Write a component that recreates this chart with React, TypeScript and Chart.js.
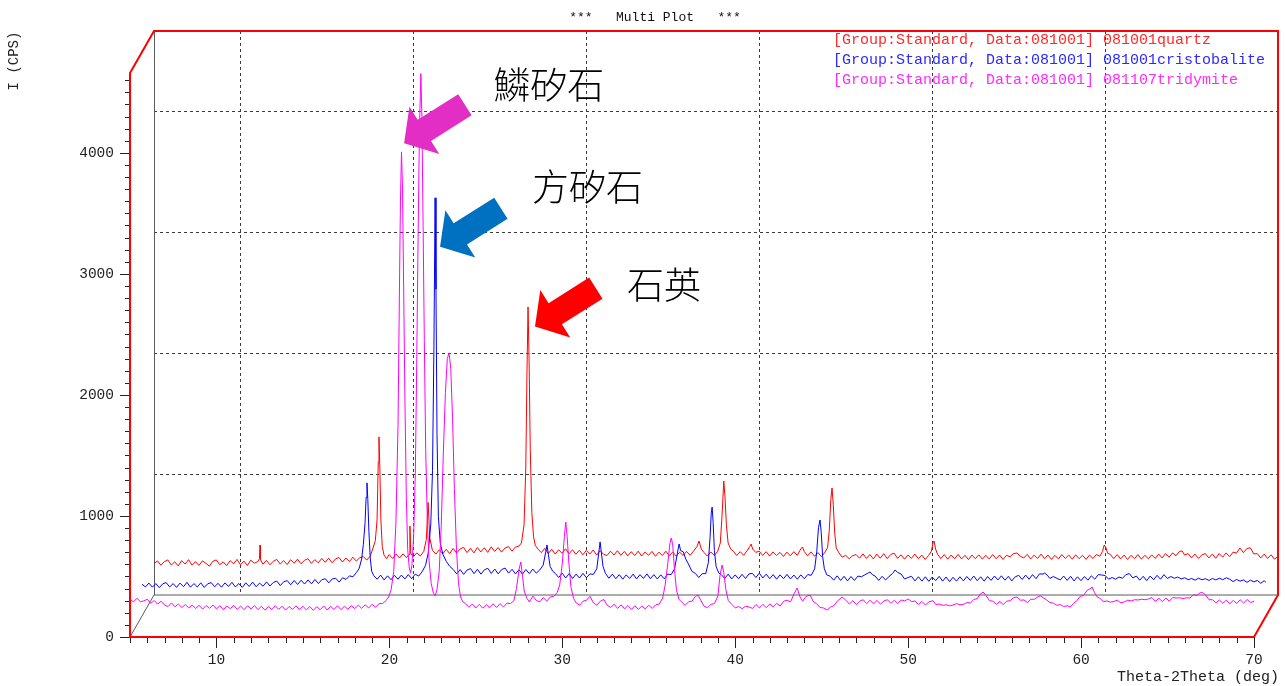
import React, { useEffect, useRef } from "react";
import { Chart, registerables } from "chart.js";

Chart.register(...registerables);

// ---------- axis ranges & tick labels ----------
const X_MIN = 5;
const X_MAX = 70;
const Y_MIN = 0;
const Y_MAX = 4660;
const X_TICK_LABELS = [10, 20, 30, 40, 50, 60, 70];
const Y_TICK_LABELS = [0, 1000, 2000, 3000, 4000];
const BACK_GRID_X = [10, 20, 30, 40, 50, 60];
const BACK_GRID_Y = [1000, 2000, 3000, 4000];

const CHART_TITLE = "***   Multi Plot   ***";
const X_TITLE = "Theta-2Theta (deg)";
const Y_TITLE = "I (CPS)";

const SERIES_NAMES = [
  "[Group:Standard, Data:081001] 081001quartz",
  "[Group:Standard, Data:081001] 081001cristobalite",
  "[Group:Standard, Data:081001] 081107tridymite",
];

// ---------- series data: [2theta (deg), intensity (CPS)] ----------
const quartz: number[][] = [
  [5.0, 258], [5.2, 282], [5.4, 246], [5.6, 276], [5.8, 290], [6.0, 248], [6.2, 274], [6.4, 240], [6.6, 284], [6.8, 256],
  [7.0, 292], [7.2, 246], [7.4, 276], [7.6, 244], [7.8, 282], [8.0, 262], [8.2, 238], [8.4, 278], [8.6, 290], [8.8, 250],
  [9.0, 274], [9.2, 242], [9.4, 284], [9.6, 258], [9.8, 294], [10.0, 250], [10.2, 280], [10.4, 244], [10.6, 288], [10.8, 262],
  [11.0, 276], [11.1, 300], [11.13, 413], [11.16, 290], [11.3, 254], [11.5, 286], [11.7, 250], [11.9, 278], [12.1, 294], [12.3, 256],
  [12.5, 284], [12.7, 252], [12.9, 292], [13.1, 262], [13.3, 296], [13.5, 258], [13.7, 286], [13.9, 300], [14.1, 262], [14.3, 292],
  [14.5, 266], [14.7, 302], [14.9, 270], [15.1, 304], [15.3, 266], [15.5, 298], [15.7, 310], [15.9, 272], [16.1, 306], [16.3, 276],
  [16.5, 312], [16.7, 280], [16.9, 308], [17.1, 318], [17.3, 288], [17.5, 320], [17.65, 380], [17.8, 450], [17.9, 620], [17.97, 1100],
  [18.01, 1306], [18.06, 1050], [18.12, 620], [18.2, 400], [18.3, 330], [18.45, 300], [18.6, 334], [18.8, 302], [19.0, 338], [19.2, 306],
  [19.4, 340], [19.6, 308], [19.75, 335], [19.8, 570], [19.85, 340], [20.0, 316], [20.2, 348], [20.4, 322], [20.6, 360], [20.75, 460],
  [20.85, 765], [20.95, 470], [21.1, 370], [21.3, 338], [21.5, 374], [21.7, 340], [21.9, 378], [22.1, 342], [22.3, 384], [22.5, 346],
  [22.7, 380], [22.9, 394], [23.1, 350], [23.3, 386], [23.5, 348], [23.7, 392], [23.9, 356], [24.1, 390], [24.3, 352], [24.5, 398],
  [24.7, 360], [24.9, 392], [25.1, 354], [25.3, 388], [25.5, 400], [25.7, 362], [25.9, 396], [26.1, 404], [26.25, 430], [26.4, 580],
  [26.5, 1050], [26.57, 1850], [26.63, 2380], [26.69, 1950], [26.76, 1200], [26.85, 680], [26.95, 480], [27.05, 410], [27.2, 380], [27.4, 350],
  [27.6, 386], [27.8, 342], [28.0, 378], [28.2, 338], [28.4, 374], [28.6, 344], [28.8, 382], [29.0, 340], [29.2, 374], [29.4, 336],
  [29.6, 370], [29.8, 332], [30.0, 368], [30.2, 338], [30.4, 372], [30.6, 330], [30.8, 366], [31.0, 336], [31.2, 326], [31.4, 362],
  [31.6, 330], [31.8, 366], [32.0, 328], [32.2, 360], [32.4, 324], [32.6, 358], [32.8, 326], [33.0, 362], [33.2, 322], [33.4, 356],
  [33.6, 328], [33.8, 360], [34.0, 320], [34.2, 354], [34.4, 326], [34.6, 362], [34.8, 324], [35.0, 356], [35.2, 320], [35.4, 354],
  [35.6, 326], [35.8, 360], [36.0, 328], [36.2, 362], [36.4, 400], [36.52, 446], [36.65, 380], [36.8, 352], [37.0, 322], [37.2, 356],
  [37.4, 326], [37.6, 362], [37.75, 430], [37.85, 660], [37.95, 942], [38.02, 810], [38.1, 580], [38.2, 430], [38.35, 380], [38.5, 362],
  [38.7, 326], [38.9, 358], [39.1, 328], [39.3, 366], [39.45, 400], [39.53, 421], [39.62, 380], [39.8, 352], [40.0, 362], [40.2, 326],
  [40.4, 358], [40.6, 322], [40.8, 356], [41.0, 326], [41.2, 352], [41.4, 318], [41.6, 354], [41.8, 324], [42.0, 358], [42.2, 328],
  [42.4, 380], [42.5, 397], [42.6, 360], [42.8, 324], [43.0, 356], [43.2, 320], [43.4, 350], [43.6, 316], [43.8, 354], [43.95, 390],
  [44.05, 530], [44.14, 790], [44.21, 884], [44.28, 750], [44.36, 520], [44.45, 390], [44.6, 350], [44.8, 312], [45.0, 328], [45.2, 300],
  [45.4, 324], [45.6, 334], [45.8, 304], [46.0, 340], [46.2, 302], [46.4, 334], [46.6, 298], [46.8, 338], [47.0, 304], [47.2, 342],
  [47.4, 300], [47.6, 334], [47.8, 346], [48.0, 302], [48.2, 332], [48.4, 296], [48.6, 330], [48.8, 302], [49.0, 338], [49.2, 300],
  [49.4, 330], [49.6, 294], [49.8, 328], [49.95, 360], [50.05, 430], [50.11, 446], [50.2, 380], [50.3, 340], [50.5, 300], [50.7, 334],
  [50.9, 296], [51.1, 330], [51.3, 300], [51.5, 336], [51.7, 298], [51.9, 328], [52.1, 292], [52.3, 330], [52.5, 300], [52.7, 332],
  [52.9, 296], [53.1, 328], [53.3, 298], [53.5, 334], [53.7, 300], [53.9, 330], [54.1, 294], [54.3, 328], [54.5, 316], [54.7, 342],
  [54.9, 347], [55.1, 320], [55.3, 306], [55.5, 336], [55.7, 298], [55.9, 330], [56.1, 302], [56.3, 338], [56.5, 300], [56.7, 330],
  [56.9, 294], [57.1, 328], [57.3, 298], [57.5, 334], [57.7, 302], [57.9, 330], [58.1, 296], [58.3, 332], [58.5, 300], [58.7, 328],
  [58.9, 294], [59.1, 330], [59.3, 302], [59.5, 334], [59.7, 320], [59.85, 360], [59.95, 413], [60.05, 390], [60.15, 345], [60.3, 336],
  [60.5, 300], [60.7, 334], [60.9, 298], [61.1, 330], [61.3, 294], [61.5, 328], [61.7, 300], [61.9, 334], [62.1, 296], [62.3, 328],
  [62.5, 300], [62.7, 332], [62.9, 302], [63.1, 338], [63.3, 306], [63.5, 342], [63.7, 312], [63.9, 348], [64.1, 324], [64.3, 360],
  [64.46, 364], [64.6, 330], [64.8, 342], [65.0, 306], [65.2, 338], [65.4, 302], [65.6, 332], [65.8, 342], [66.0, 306], [66.2, 338],
  [66.4, 304], [66.6, 342], [66.8, 312], [67.0, 348], [67.2, 316], [67.4, 354], [67.6, 346], [67.8, 388], [68.0, 350], [68.2, 384],
  [68.4, 390], [68.6, 340], [68.8, 342], [69.0, 306], [69.2, 338], [69.4, 302], [69.6, 332], [69.8, 296], [70.0, 320],
];

const cristobalite: number[][] = [
  [5.0, 262], [5.2, 240], [5.4, 272], [5.6, 238], [5.8, 268], [6.0, 234], [6.2, 266], [6.4, 276], [6.6, 240], [6.8, 268],
  [7.0, 236], [7.2, 272], [7.4, 242], [7.6, 278], [7.8, 238], [8.0, 268], [8.2, 240], [8.4, 274], [8.6, 236], [8.8, 266],
  [9.0, 276], [9.2, 242], [9.4, 270], [9.6, 238], [9.8, 274], [10.0, 244], [10.2, 278], [10.4, 240], [10.6, 268], [10.8, 236],
  [11.0, 274], [11.2, 244], [11.4, 280], [11.6, 242], [11.8, 272], [12.0, 246], [12.2, 282], [12.4, 248], [12.6, 278], [12.8, 288],
  [13.0, 252], [13.2, 284], [13.4, 292], [13.6, 258], [13.8, 294], [14.0, 260], [14.2, 296], [14.4, 264], [14.6, 298], [14.8, 266],
  [15.0, 302], [15.2, 268], [15.4, 300], [15.6, 308], [15.8, 274], [16.0, 306], [16.2, 312], [16.4, 280], [16.6, 316], [16.8, 302],
  [17.0, 332], [17.2, 324], [17.4, 360], [17.55, 390], [17.7, 470], [17.8, 590], [17.9, 770], [17.96, 980], [18.01, 1100], [18.06, 960],
  [18.12, 700], [18.2, 480], [18.28, 370], [18.4, 334], [18.6, 304], [18.8, 338], [19.0, 298], [19.2, 332], [19.4, 300], [19.6, 336],
  [19.8, 304], [20.0, 338], [20.2, 306], [20.4, 342], [20.6, 308], [20.8, 346], [21.0, 330], [21.2, 366], [21.4, 420], [21.55, 520],
  [21.7, 760], [21.8, 1200], [21.88, 2200], [21.95, 3455], [22.0, 2700], [22.06, 1500], [22.14, 820], [22.25, 600], [22.4, 510], [22.6, 450],
  [22.8, 410], [23.0, 384], [23.2, 348], [23.4, 384], [23.6, 344], [23.8, 380], [24.0, 392], [24.2, 350], [24.4, 386], [24.6, 346],
  [24.8, 382], [25.0, 394], [25.2, 352], [25.4, 388], [25.6, 348], [25.8, 384], [26.0, 396], [26.2, 354], [26.4, 386], [26.6, 348],
  [26.8, 382], [27.0, 346], [27.2, 384], [27.4, 350], [27.6, 388], [27.8, 354], [28.0, 380], [28.2, 420], [28.35, 530], [28.42, 587],
  [28.5, 510], [28.6, 410], [28.75, 370], [28.9, 352], [29.1, 318], [29.3, 354], [29.5, 314], [29.7, 350], [29.9, 310], [30.1, 346],
  [30.3, 314], [30.5, 352], [30.7, 316], [30.9, 348], [31.1, 344], [31.3, 390], [31.42, 530], [31.49, 612], [31.56, 530], [31.66, 410],
  [31.8, 352], [32.0, 312], [32.2, 346], [32.4, 308], [32.6, 342], [32.8, 304], [33.0, 340], [33.2, 310], [33.4, 346], [33.6, 306],
  [33.8, 342], [34.0, 310], [34.2, 348], [34.4, 308], [34.6, 342], [34.8, 306], [35.0, 340], [35.2, 308], [35.4, 346], [35.6, 342],
  [35.8, 390], [35.95, 510], [36.06, 595], [36.15, 540], [36.3, 530], [36.45, 470], [36.6, 430], [36.8, 370], [37.0, 352], [37.2, 318],
  [37.4, 350], [37.6, 350], [37.75, 440], [37.85, 650], [37.92, 850], [37.97, 900], [38.03, 770], [38.1, 540], [38.2, 410], [38.35, 356],
  [38.5, 342], [38.7, 310], [38.9, 346], [39.1, 306], [39.3, 340], [39.5, 308], [39.7, 344], [39.9, 310], [40.1, 348], [40.3, 352],
  [40.5, 318], [40.7, 354], [40.9, 314], [41.1, 346], [41.3, 308], [41.5, 342], [41.7, 304], [41.9, 340], [42.1, 308], [42.3, 344],
  [42.5, 306], [42.7, 338], [42.9, 304], [43.1, 340], [43.3, 308], [43.5, 342], [43.7, 336], [43.9, 390], [44.02, 530], [44.12, 730],
  [44.21, 793], [44.28, 690], [44.36, 490], [44.46, 390], [44.6, 340], [44.8, 328], [45.0, 296], [45.2, 332], [45.4, 294], [45.6, 328],
  [45.8, 290], [46.0, 326], [46.2, 294], [46.4, 330], [46.6, 324], [46.8, 340], [47.0, 356], [47.1, 364], [47.25, 340], [47.4, 330],
  [47.6, 294], [47.8, 328], [48.0, 298], [48.2, 326], [48.4, 350], [48.55, 380], [48.7, 360], [48.9, 346], [49.1, 306], [49.3, 318],
  [49.5, 328], [49.7, 290], [49.9, 324], [50.1, 288], [50.3, 324], [50.5, 286], [50.7, 322], [50.9, 292], [51.1, 328], [51.3, 288],
  [51.5, 322], [51.7, 284], [51.9, 320], [52.1, 288], [52.3, 324], [52.5, 290], [52.7, 326], [52.9, 294], [53.1, 330], [53.3, 292],
  [53.5, 324], [53.7, 288], [53.9, 326], [54.1, 294], [54.3, 330], [54.5, 298], [54.7, 332], [54.9, 296], [55.1, 328], [55.3, 290],
  [55.5, 324], [55.7, 336], [55.9, 302], [56.1, 338], [56.3, 304], [56.5, 342], [56.7, 308], [56.9, 348], [57.1, 346], [57.2, 355],
  [57.35, 338], [57.5, 310], [57.7, 326], [57.9, 312], [58.1, 298], [58.3, 330], [58.5, 294], [58.7, 328], [58.9, 290], [59.1, 324],
  [59.3, 292], [59.5, 326], [59.7, 296], [59.9, 332], [60.1, 304], [60.3, 342], [60.5, 339], [60.7, 334], [60.9, 304], [61.1, 318],
  [61.3, 304], [61.5, 322], [61.7, 312], [61.9, 342], [62.1, 350], [62.3, 314], [62.5, 330], [62.7, 296], [62.9, 328], [63.1, 292],
  [63.3, 330], [63.5, 300], [63.7, 336], [63.9, 304], [64.1, 342], [64.3, 310], [64.5, 326], [64.7, 312], [64.9, 322], [65.1, 306],
  [65.3, 316], [65.5, 300], [65.7, 310], [65.9, 296], [66.1, 312], [66.3, 300], [66.5, 308], [66.7, 294], [66.9, 310], [67.1, 298],
  [67.3, 312], [67.5, 300], [67.7, 316], [67.9, 304], [68.1, 284], [68.3, 302], [68.5, 288], [68.7, 298], [68.9, 278], [69.1, 296],
  [69.3, 282], [69.5, 294], [69.7, 270], [69.9, 292], [70.0, 276],
];

const tridymite: number[][] = [
  [5.0, 312], [5.2, 290], [5.4, 320], [5.6, 292], [5.8, 298], [6.0, 312], [6.2, 278], [6.4, 302], [6.6, 272], [6.8, 296],
  [7.0, 264], [7.2, 252], [7.4, 282], [7.6, 250], [7.8, 272], [8.0, 244], [8.2, 268], [8.4, 240], [8.6, 264], [8.8, 236],
  [9.0, 262], [9.2, 230], [9.4, 260], [9.6, 238], [9.8, 264], [10.0, 232], [10.2, 258], [10.4, 226], [10.6, 256], [10.8, 234],
  [11.0, 262], [11.2, 228], [11.4, 256], [11.6, 226], [11.8, 258], [12.0, 232], [12.2, 260], [12.4, 226], [12.6, 254], [12.8, 222],
  [13.0, 252], [13.2, 226], [13.4, 258], [13.6, 228], [13.8, 254], [14.0, 222], [14.2, 252], [14.4, 228], [14.6, 258], [14.8, 226],
  [15.0, 254], [15.2, 224], [15.4, 252], [15.6, 220], [15.8, 250], [16.0, 226], [16.2, 256], [16.4, 224], [16.6, 252], [16.8, 228],
  [17.0, 258], [17.2, 226], [17.4, 254], [17.6, 230], [17.8, 260], [18.0, 234], [18.2, 264], [18.4, 236], [18.6, 266], [18.8, 240],
  [19.0, 270], [19.2, 246], [19.4, 276], [19.6, 276], [19.8, 300], [19.95, 330], [20.1, 390], [20.25, 540], [20.38, 950], [20.5, 1750],
  [20.58, 2850], [20.64, 3600], [20.7, 4008], [20.76, 3700], [20.82, 2950], [20.9, 1950], [20.98, 1150], [21.06, 720], [21.15, 570], [21.22, 530],
  [21.3, 590], [21.4, 820], [21.5, 1350], [21.58, 2250], [21.66, 3300], [21.74, 4200], [21.82, 4655], [21.88, 4300], [21.95, 3400], [22.02, 2450],
  [22.1, 1550], [22.2, 920], [22.3, 620], [22.42, 440], [22.55, 360], [22.65, 340], [22.75, 390], [22.88, 540], [23.0, 920], [23.12, 1520],
  [23.24, 2020], [23.35, 2300], [23.45, 2347], [23.55, 2220], [23.65, 1820], [23.76, 1220], [23.88, 720], [24.0, 440], [24.12, 330], [24.25, 290],
  [24.4, 276], [24.6, 246], [24.8, 272], [25.0, 240], [25.2, 270], [25.4, 238], [25.6, 268], [25.8, 242], [26.0, 274], [26.2, 244],
  [26.4, 276], [26.6, 248], [26.8, 280], [27.0, 276], [27.2, 300], [27.35, 400], [27.5, 560], [27.6, 620], [27.7, 500], [27.8, 380],
  [27.95, 320], [28.1, 290], [28.3, 338], [28.5, 302], [28.7, 290], [28.9, 326], [29.1, 296], [29.3, 330], [29.5, 336], [29.7, 366],
  [29.85, 430], [30.0, 610], [30.12, 830], [30.2, 950], [30.28, 830], [30.38, 610], [30.5, 410], [30.65, 320], [30.8, 282], [31.0, 262],
  [31.2, 296], [31.4, 304], [31.6, 336], [31.8, 282], [32.0, 262], [32.2, 296], [32.4, 310], [32.6, 262], [32.8, 244], [33.0, 270],
  [33.2, 236], [33.4, 266], [33.6, 232], [33.8, 260], [34.0, 228], [34.2, 258], [34.4, 228], [34.6, 256], [34.8, 232], [35.0, 262],
  [35.2, 236], [35.4, 266], [35.6, 272], [35.8, 320], [35.95, 430], [36.1, 610], [36.22, 770], [36.3, 818], [36.38, 770], [36.48, 570],
  [36.6, 390], [36.75, 310], [36.9, 290], [37.1, 262], [37.3, 290], [37.5, 296], [37.7, 336], [37.85, 347], [38.0, 306], [38.2, 254],
  [38.4, 242], [38.6, 270], [38.8, 276], [39.0, 340], [39.12, 510], [39.24, 595], [39.34, 530], [39.46, 390], [39.6, 300], [39.8, 270],
  [40.0, 240], [40.2, 252], [40.4, 234], [40.6, 254], [40.8, 248], [41.0, 236], [41.2, 268], [41.4, 240], [41.6, 270], [41.8, 242],
  [42.0, 274], [42.2, 248], [42.4, 278], [42.6, 256], [42.8, 296], [43.0, 304], [43.2, 290], [43.4, 356], [43.58, 405], [43.75, 330],
  [43.9, 296], [44.1, 336], [44.33, 347], [44.5, 296], [44.7, 276], [44.9, 244], [45.1, 240], [45.31, 223], [45.5, 246], [45.7, 258],
  [45.9, 296], [46.18, 330], [46.4, 304], [46.6, 272], [46.8, 300], [47.0, 268], [47.2, 296], [47.4, 308], [47.6, 276], [47.8, 304],
  [48.0, 274], [48.2, 302], [48.4, 272], [48.6, 298], [48.8, 308], [49.0, 278], [49.2, 304], [49.4, 276], [49.6, 306], [49.8, 298],
  [50.0, 314], [50.2, 292], [50.4, 298], [50.6, 268], [50.8, 294], [51.0, 264], [51.2, 290], [51.44, 300], [51.6, 268], [51.8, 272],
  [52.0, 262], [52.2, 266], [52.4, 258], [52.6, 264], [52.8, 276], [53.0, 266], [53.2, 270], [53.4, 284], [53.6, 282], [53.8, 310],
  [54.0, 318], [54.15, 352], [54.33, 372], [54.5, 344], [54.7, 300], [54.9, 296], [55.1, 270], [55.3, 294], [55.5, 268], [55.7, 296],
  [55.9, 300], [56.1, 326], [56.3, 330], [56.5, 304], [56.7, 306], [56.9, 284], [57.1, 312], [57.3, 312], [57.5, 332], [57.65, 340],
  [57.8, 326], [58.0, 308], [58.2, 284], [58.4, 280], [58.6, 262], [58.8, 268], [59.0, 252], [59.2, 258], [59.37, 248], [59.55, 276],
  [59.75, 300], [59.95, 336], [60.15, 344], [60.35, 386], [60.5, 396], [60.64, 413], [60.78, 366], [60.93, 331], [61.1, 318], [61.3, 292],
  [61.5, 298], [61.7, 288], [61.9, 294], [62.1, 304], [62.3, 282], [62.5, 290], [62.7, 304], [62.9, 298], [63.1, 308], [63.3, 306],
  [63.5, 312], [63.7, 308], [63.9, 314], [64.1, 326], [64.3, 294], [64.5, 320], [64.7, 292], [64.9, 322], [65.1, 296], [65.3, 326],
  [65.5, 322], [65.7, 324], [65.9, 318], [66.1, 324], [66.3, 322], [66.5, 348], [66.7, 344], [66.9, 368], [67.06, 364], [67.2, 348],
  [67.4, 308], [67.6, 308], [67.8, 282], [68.0, 306], [68.2, 278], [68.4, 304], [68.6, 274], [68.8, 302], [69.0, 276], [69.2, 308],
  [69.4, 280], [69.6, 310], [69.8, 284], [70.0, 296],
];

// ---------- annotations (anchored in data coordinates) ----------
const LABEL_TEXTS = ["鱗矽石", "方矽石", "石英"];
const LABEL_X = [26.0, 28.25, 33.74];
const LABEL_Y = [4562, 3719, 2909];
const ARROW_TIP_X = [20.85, 22.93, 28.42];
const ARROW_TIP_Y = [4080, 3225, 2565];
const ARROW_COLORS = ["#e22ec4", "#0070c0", "#ff0000"];

// ---------- styles ----------
const LINE_COLORS = ["#ff0000", "#0000ff", "#ff00ff"];
const LEGEND_COLORS = ["#ff2a2a", "#2a2aff", "#ff2aff"];
const DEPTH_OFFSETS = [[24, -42], [12, -21], [0, 0]];
const MONO = '"Liberation Mono", "DejaVu Sans Mono", monospace';

const plot3dPlugin = {
  id: "plot3d",
  beforeDatasetsDraw(chart: any) {
    const { ctx, chartArea: a, scales } = chart;
    const xs = scales.x;
    const ys = scales.y;
    const [bx, by] = DEPTH_OFFSETS[0];
    ctx.save();
    ctx.strokeStyle = "#3a3a3a";
    ctx.lineWidth = 1;
    ctx.setLineDash([3, 3]);
    BACK_GRID_X.forEach((v) => {
      const px = Math.round(xs.getPixelForValue(v) + bx) + 0.5;
      ctx.beginPath();
      ctx.moveTo(px, a.top + by);
      ctx.lineTo(px, a.bottom + by);
      ctx.stroke();
    });
    BACK_GRID_Y.forEach((v) => {
      const py = Math.round(ys.getPixelForValue(v) + by) + 0.5;
      ctx.beginPath();
      ctx.moveTo(a.left + bx, py);
      ctx.lineTo(a.right + bx, py);
      ctx.stroke();
    });
    ctx.setLineDash([]);
    ctx.strokeStyle = "#5a5a5a";
    ctx.beginPath();
    ctx.moveTo(a.left, a.bottom);
    ctx.lineTo(a.left + bx, a.bottom + by);
    ctx.lineTo(a.right + bx, a.bottom + by);
    ctx.moveTo(a.left + bx + 0.5, a.bottom + by);
    ctx.lineTo(a.left + bx + 0.5, a.top + by);
    ctx.stroke();
    ctx.restore();
  },
  beforeDatasetDraw(chart: any, args: any) {
    const [dx, dy] = DEPTH_OFFSETS[args.index];
    chart.ctx.save();
    chart.ctx.translate(dx, dy);
  },
  afterDatasetDraw(chart: any) {
    chart.ctx.restore();
  },
  afterDraw(chart: any) {
    const { ctx, chartArea: a, scales } = chart;
    const xs = scales.x;
    const ys = scales.y;
    const [bx, by] = DEPTH_OFFSETS[0];
    ctx.save();

    // tick marks
    ctx.strokeStyle = "#222";
    ctx.lineWidth = 1;
    ctx.beginPath();
    for (let v = Y_MIN; v <= Y_MAX; v += 100) {
      const py = Math.round(ys.getPixelForValue(v)) + 0.5;
      const len = v % 1000 === 0 ? 10 : 5;
      ctx.moveTo(a.left - len, py);
      ctx.lineTo(a.left, py);
    }
    for (let v = X_MIN; v <= X_MAX; v += 1) {
      const px = Math.round(xs.getPixelForValue(v)) + 0.5;
      const len = v % 10 === 0 ? 11 : 6;
      ctx.moveTo(px, a.bottom);
      ctx.lineTo(px, a.bottom + len);
    }
    ctx.stroke();

    // red outer frame
    ctx.strokeStyle = "#ff0000";
    ctx.lineWidth = 2;
    ctx.lineJoin = "miter";
    ctx.beginPath();
    ctx.moveTo(a.left, a.bottom);
    ctx.lineTo(a.left, a.top);
    ctx.lineTo(a.left + bx, a.top + by);
    ctx.lineTo(a.right + bx, a.top + by);
    ctx.lineTo(a.right + bx, a.bottom + by);
    ctx.lineTo(a.right, a.bottom);
    ctx.closePath();
    ctx.stroke();

    // title & axis titles
    ctx.fillStyle = "#111";
    ctx.font = `13px ${MONO}`;
    ctx.textAlign = "center";
    ctx.textBaseline = "middle";
    ctx.fillText(CHART_TITLE, 655, 18);

    ctx.font = `15px ${MONO}`;
    ctx.textAlign = "right";
    ctx.fillStyle = "#222";
    ctx.fillText(X_TITLE, 1279, 677);

    ctx.save();
    ctx.translate(14, 61);
    ctx.rotate(-Math.PI / 2);
    ctx.textAlign = "center";
    ctx.font = `14px ${MONO}`;
    ctx.fillText(Y_TITLE, 0, 0);
    ctx.restore();

    // legend
    ctx.font = `15px ${MONO}`;
    ctx.textAlign = "left";
    chart.data.datasets.forEach((ds: any, i: number) => {
      ctx.fillStyle = LEGEND_COLORS[i];
      ctx.fillText(ds.label, 833, 40 + i * 20);
    });

    // block arrows
    const ux = 0.845, uy = -0.534; // unit vector from tip toward tail
    const nx = 0.534, ny = 0.845;
    const L = 72, H = 24, HW = 28, SW = 12.5;
    ARROW_TIP_X.forEach((xv, i) => {
      const tx = xs.getPixelForValue(xv);
      const ty = ys.getPixelForValue(ARROW_TIP_Y[i]);
      const hx = tx + H * ux, hy = ty + H * uy;
      const ex = tx + L * ux, ey = ty + L * uy;
      ctx.fillStyle = ARROW_COLORS[i];
      ctx.beginPath();
      ctx.moveTo(tx, ty);
      ctx.lineTo(hx + HW * nx, hy + HW * ny);
      ctx.lineTo(hx + SW * nx, hy + SW * ny);
      ctx.lineTo(ex + SW * nx, ey + SW * ny);
      ctx.lineTo(ex - SW * nx, ey - SW * ny);
      ctx.lineTo(hx - SW * nx, hy - SW * ny);
      ctx.lineTo(hx - HW * nx, hy - HW * ny);
      ctx.closePath();
      ctx.fill();
    });

    // Chinese labels
    ctx.fillStyle = "#000";
    ctx.font = `300 37px "Noto Sans CJK TC", "Noto Sans CJK SC", sans-serif`;
    ctx.textAlign = "left";
    ctx.textBaseline = "middle";
    LABEL_TEXTS.forEach((t, i) => {
      ctx.fillText(t, xs.getPixelForValue(LABEL_X[i]), ys.getPixelForValue(LABEL_Y[i]));
    });

    ctx.restore();
  },
};

export default function App() {
  const canvasRef = useRef<HTMLCanvasElement | null>(null);

  useEffect(() => {
    const canvas = canvasRef.current;
    if (!canvas) return;
    const toPoints = (arr: number[][]) => arr.map(([x, y]) => ({ x, y }));
    const seriesData = [quartz, cristobalite, tridymite];
    const chart = new Chart(canvas, {
      type: "line",
      data: {
        datasets: seriesData.map((d, i) => ({
          label: SERIES_NAMES[i],
          data: toPoints(d),
          borderColor: LINE_COLORS[i],
          backgroundColor: LINE_COLORS[i],
          borderWidth: 1,
          pointRadius: 0,
          tension: 0,
          fill: false,
          order: 3 - i,
        })),
      },
      options: {
        responsive: false,
        animation: false,
        devicePixelRatio: 1,
        layout: { padding: { top: 73, right: 31, left: 0, bottom: 0 } },
        plugins: {
          legend: { display: false },
          title: { display: false },
          tooltip: { enabled: false },
        },
        scales: {
          x: {
            type: "linear",
            min: X_MIN,
            max: X_MAX,
            afterBuildTicks: (s: any) => {
              s.ticks = X_TICK_LABELS.map((v) => ({ value: v }));
            },
            afterFit: (s: any) => {
              s.height = 49;
            },
            border: { display: false },
            grid: { display: false, drawTicks: false },
            ticks: {
              padding: 14,
              autoSkip: false,
              maxRotation: 0,
              color: "#222",
              font: { family: MONO, size: 14.5 },
              callback: (v: any) => String(v),
            },
          },
          y: {
            type: "linear",
            min: Y_MIN,
            max: Y_MAX,
            afterBuildTicks: (s: any) => {
              s.ticks = Y_TICK_LABELS.map((v) => ({ value: v }));
            },
            afterFit: (s: any) => {
              s.width = 130;
            },
            border: { display: false },
            grid: { display: false, drawTicks: false },
            ticks: {
              padding: 16,
              autoSkip: false,
              color: "#222",
              font: { family: MONO, size: 14.5 },
              callback: (v: any) => String(v),
            },
          },
        },
      } as any,
      plugins: [plot3dPlugin],
    });
    return () => chart.destroy();
  }, []);

  return (
    <div
      style={{
        position: "fixed",
        left: 0,
        top: 0,
        width: 1285,
        height: 686,
        background: "#fff",
      }}
    >
      <canvas ref={canvasRef} width={1285} height={686} style={{ display: "block" }} />
    </div>
  );
}
